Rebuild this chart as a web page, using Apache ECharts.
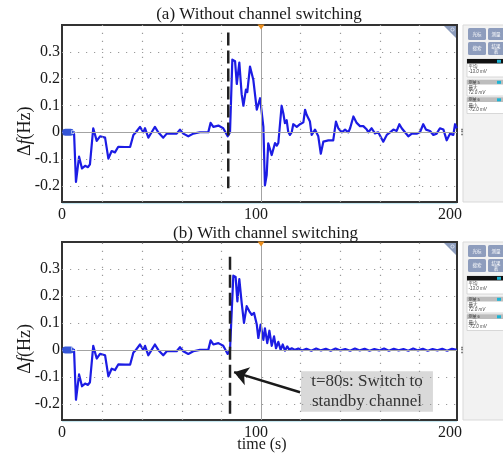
<!DOCTYPE html>
<html>
<head>
<meta charset="utf-8">
<script src="https://cdn.jsdelivr.net/npm/echarts@6/dist/echarts.min.js"></script>
<style>
  html, body { margin: 0; padding: 0; background: #fff; }
  #chart { width: 503px; height: 454px; }
</style>
</head>
<body>
<div id="chart"></div>
<script>
// Frequency deviation traces (time in s, deviation in Hz)
const timeTicks = [0, 100, 200];
const dfTicks = [-0.2, -0.1, 0, 0.1, 0.2, 0.3];
const panelTitles = ['(a) Without channel switching', '(b) With channel switching'];

// Common part of both recordings, before the disturbance at the switch point
const preTimes = [0, 6.2, 7.2, 8.8, 10.3, 11.9, 13.4, 14.4, 16.1, 17.9, 19.6, 22.2, 23.9, 25.6, 27.3,
  29.0, 32.5, 35.1, 36.8, 38.1, 40.2, 41.9, 42.8, 44.5, 46.2, 47.9, 49.6, 50.5, 52.2, 54.0,
  59.1, 60.8, 62.5, 65.1, 67.7, 71.1, 75.4, 76.6, 78.0, 80.6, 83.1, 85.4, 86.6];
const preDf = [0, 0, -0.185, -0.091, -0.135, -0.125, -0.13, -0.12, 0.015, -0.032, -0.015, -0.02, -0.098, -0.07, -0.075,
  -0.054, -0.055, -0.055, -0.01, 0.0, 0.02, 0.0, 0.015, -0.02, 0.0, 0.02, 0.0, 0.005, -0.02, -0.005,
  -0.005, 0.01, -0.005, -0.015, -0.005, 0.0, 0.0, 0.035, 0.02, 0.025, 0.015, -0.015, 0.0];

// (a) without switching
const afterTimesA = [87.8, 89.2, 90.1, 91.4, 92.6, 93.5, 94.8, 95.5, 96.9, 98.6, 100.4, 102.1, 102.9, 103.8, 104.6,
  105.5, 106.3, 107.2, 108.1, 109.8, 110.7, 111.5, 113.2, 114.1, 114.9, 115.8, 116.6, 117.5, 118.4, 119.2,
  121.0, 122.7, 124.4, 125.3, 126.1, 127.8, 128.7, 130.4, 132.1, 133.4, 134.7, 135.6, 137.3, 139.8, 141.2,
  142.4, 144.2, 145.9, 147.6, 148.5, 150.2, 151.9, 153.6, 155.3, 157.1, 157.9, 159.6, 161.3, 163.0, 163.9,
  165.6, 167.4, 169.1, 170.8, 172.5, 173.9, 175.1, 176.8, 178.5, 180.3, 182.8, 184.5, 186.2, 187.6, 189.7,
  191.4, 193.1, 194.8, 196.6, 198.3, 200.0, 201.7, 202.6, 203.5];
const afterDfA = [0.271, 0.265, 0.18, 0.26, 0.142, 0.099, 0.159, 0.15, 0.245, 0.196, 0.084, 0.127, 0.125, 0.02, -0.198,
  -0.16, -0.041, -0.045, -0.085, -0.04, -0.05, -0.04, 0.099, 0.07, 0.034, 0.045, 0.002, -0.01, 0.0, 0.03,
  0.02, 0.03, 0.037, 0.084, 0.065, 0.04, -0.01, 0.01, -0.015, -0.08, -0.035, -0.04, -0.03, -0.03, 0.04,
  0.015, 0.0, 0.01, 0.0, 0.015, 0.059, 0.035, 0.023, 0.023, 0.01, 0.0, 0.015, -0.004, 0.0, -0.005,
  -0.035, -0.01, 0.0, 0.01, 0.005, 0.03, 0.015, 0.0, -0.015, -0.005, -0.005, 0.0, 0.03, 0.01, 0.005,
  -0.01, -0.005, 0.015, 0.01, -0.03, -0.005, -0.01, 0.03, 0.015];

// (b) with switching to the standby channel
const afterTimesB = [87.5, 88.3, 89.5, 90.4, 91.4, 92.6, 93.8, 95.2, 96.5, 97.8, 99.0, 100.4, 101.2, 102.4, 103.8,
  104.6, 105.8, 106.9, 108.1, 109.3, 110.3, 111.5, 112.7, 113.8, 114.9, 116.1, 117.2, 118.4, 120.1, 121.8,
  123.7, 126.0, 128.5, 131.0, 133.5, 136.0, 138.5, 141.0, 143.5, 146.0, 148.5, 151.0, 153.5, 156.0, 158.5,
  161.0, 163.5, 166.0, 168.5, 171.0, 173.5, 176.0, 178.5, 181.0, 183.5, 186.0, 188.5, 191.0, 193.5, 196.0,
  198.5, 201.0, 203.5];
const afterDfB = [0.006, 0.275, 0.27, 0.18, 0.262, 0.175, 0.1, 0.162, 0.144, 0.13, 0.137, 0.094, 0.044, 0.094, 0.037,
  0.08, 0.025, 0.071, 0.015, 0.05, 0.006, 0.03, 0.0, 0.02, -0.003, 0.013, 0.0, 0.006, 0.0, 0.005,
  -0.002, 0.004, -0.003, 0.005, -0.002, 0.004, -0.003, 0.005, -0.002, 0.003, -0.003, 0.005, -0.002, 0.004, -0.003,
  0.003, -0.002, 0.005, -0.003, 0.004, -0.002, 0.003, -0.003, 0.005, -0.002, 0.004, -0.003, 0.003, -0.002, 0.004,
  -0.003, 0.004, 0.0];

// Switch instant marker (time, upper end, lower end)
const switchTimes = [85.7, 86.6];
const switchSpanA = [0.372, -0.209];
const switchSpanB = [0.345, -0.255];

// Annotation in panel (b)
const noteText = ['t=80s: Switch to', 'standby channel'];
const noteBox = [[123.2, -0.079], [191.2, -0.229]];
const arrowFrom = [122.7, -0.157];
const arrowTo = [88.7, -0.0825];

// Scope screen grid: 10 horizontal divisions
const divTimes = [21.0, 41.4, 61.8, 82.2, 123.0, 143.4, 163.8, 184.2];
const centerTime = 102.6;

const T_MAX = 203.6, DF_MIN = -0.26, DF_MAX = 0.40;
const SERIF = '"Liberation Serif", "Times New Roman", serif';
const CJK = '"Noto Sans CJK SC", sans-serif';
const TRACE = '#1c1ce4';

const pair = (ts, vs) => ts.map((t, i) => [t, vs[i]]);
const traceA = pair(preTimes, preDf).concat(pair(afterTimesA, afterDfA));
const traceB = pair(preTimes, preDf).concat(pair(afterTimesB, afterDfB));

const grids = [
  { left: 62, top: 25, width: 395, height: 177 },
  { left: 62, top: 242, width: 395, height: 178 }
];

const chart = echarts.init(document.getElementById('chart'), null, { renderer: 'canvas' });

function gridSeries(i) {
  return {
    type: 'line', xAxisIndex: i, yAxisIndex: i, data: [], silent: true, z: 1,
    markLine: {
      silent: true, symbol: 'none', animation: false, label: { show: false },
      lineStyle: { color: '#9a9a9a', type: [1.2, 6.8], width: 1.2 },
      data: divTimes.map(t => ({ xAxis: t }))
        .concat(dfTicks.filter(v => v !== 0).map(v => ({ yAxis: v })))
        .concat([
          { xAxis: centerTime, lineStyle: { color: '#a3a3a3', type: 'solid', width: 1 } },
          { yAxis: 0, lineStyle: { color: '#a3a3a3', type: 'solid', width: 1 } }
        ])
    }
  };
}

function traceSeries(i, data) {
  return {
    type: 'line', xAxisIndex: i, yAxisIndex: i, data: data, showSymbol: false, symbol: 'none',
    smooth: false, z: 3,
    lineStyle: { color: TRACE, width: 2.2, join: 'round' },
    markPoint: {
      silent: true, animation: false,
      data: [
        {
          coord: [0, 0], symbol: 'roundRect', symbolSize: [11, 7], symbolOffset: [6, 0],
          itemStyle: { color: '#3556d8' },
          label: { show: true, formatter: 'C1', color: '#fff', fontSize: 5, fontFamily: 'sans-serif', offset: [6, 0], position: 'inside' }
        },
        {
          coord: [centerTime, DF_MAX], symbol: 'triangle', symbolRotate: 180, symbolSize: [7, 5], symbolOffset: [0, 2],
          itemStyle: { color: '#ec8f1e' }, label: { show: false }
        }
      ]
    }
  };
}

function switchSeries(i, t, span) {
  return {
    type: 'line', xAxisIndex: i, yAxisIndex: i, data: [[t, span[0]], [t, span[1]]],
    symbol: 'none', silent: true, z: 5,
    lineStyle: { color: '#222', width: 2.5, type: [13, 5] }
  };
}

const axisLabelStyle = { fontFamily: SERIF, fontSize: 16, color: '#1a1a1a' };

const option = {
  animation: false,
  backgroundColor: '#fff',
  grid: grids.map(g => Object.assign({ show: true, borderColor: '#333', borderWidth: 2, backgroundColor: '#fff' }, g)),
  xAxis: [0, 1].map(i => ({
    gridIndex: i, type: 'value', min: 0, max: T_MAX,
    axisLine: { show: false }, axisTick: { show: false }, splitLine: { show: false },
    axisLabel: Object.assign({ customValues: timeTicks, margin: 5 }, axisLabelStyle)
  })),
  yAxis: [0, 1].map(i => ({
    gridIndex: i, type: 'value', min: DF_MIN, max: DF_MAX,
    axisLine: { show: false }, axisTick: { show: false }, splitLine: { show: false },
    axisLabel: Object.assign({
      customValues: dfTicks, margin: 2,
      formatter: v => (Math.abs(v) < 1e-9 ? '0' : v.toFixed(1))
    }, axisLabelStyle)
  })),
  series: [
    gridSeries(0),
    gridSeries(1),
    traceSeries(0, traceA),
    traceSeries(1, traceB),
    switchSeries(0, switchTimes[0], switchSpanA),
    Object.assign(switchSeries(1, switchTimes[1], switchSpanB), {
      markLine: {
        silent: true, animation: false, symbol: ['none', 'arrow'], symbolSize: 14,
        label: { show: false },
        lineStyle: { color: '#1a1a1a', width: 2.5, type: 'solid' },
        data: [[{ coord: arrowFrom }, { coord: arrowTo }]]
      },
      markArea: {
        silent: true,
        itemStyle: { color: '#d9d9d9' },
        label: {
          show: true, position: 'inside', formatter: noteText.join('\n'),
          fontFamily: SERIF, fontSize: 17, lineHeight: 20, color: '#333'
        },
        data: [[{ coord: noteBox[0] }, { coord: noteBox[1] }]]
      }
    })
  ],
  graphic: []
};

// Scope side panel with measurement readouts
function sidePanel(y0, h) {
  const els = [];
  els.push({ type: 'rect', shape: { x: 463, y: y0, width: 41, height: h }, style: { fill: '#f2f2f2', stroke: '#d9d9d9', lineWidth: 1 } });
  const btns = [
    [468, y0 + 3, 18, 12, '光标'], [488, y0 + 3, 16, 12, '测量'],
    [468, y0 + 17, 18, 13, '搜索'], [488, y0 + 17, 16, 13, '结果\n表']
  ];
  btns.forEach(b => {
    els.push({ type: 'rect', shape: { x: b[0], y: b[1], width: b[2], height: b[3], r: 1.5 }, style: { fill: '#8e9dbd' } });
    els.push({ type: 'text', x: b[0] + b[2] / 2, y: b[1] + b[3] / 2, style: { text: b[4], fill: '#fff', font: '4.5px ' + CJK, align: 'center', verticalAlign: 'middle', lineHeight: 5 } });
  });
  const blocks = [
    [y0 + 34, 18, '#111111', '', '平均', '-13.0 mV'],
    [y0 + 55, 16, '#bdbdbd', '测量 5', '最大', '72.0 mV'],
    [y0 + 72.5, 16, '#bdbdbd', '测量 6', '最小', '-72.0 mV']
  ];
  blocks.forEach(b => {
    els.push({ type: 'rect', shape: { x: 467, y: b[0], width: 37, height: b[1] }, style: { fill: '#fff', stroke: '#cfcfcf', lineWidth: 0.8 } });
    els.push({ type: 'rect', shape: { x: 467, y: b[0], width: 37, height: 4.5 }, style: { fill: b[2] } });
    els.push({ type: 'rect', shape: { x: 497, y: b[0] + 0.8, width: 4, height: 3 }, style: { fill: '#1db4d4' } });
    if (b[3]) els.push({ type: 'text', x: 468.5, y: b[0] + 2.3, style: { text: b[3], fill: '#333', font: '4px ' + CJK, verticalAlign: 'middle' } });
    els.push({ type: 'text', x: 468.5, y: b[0] + 7.5, style: { text: b[4], fill: '#444', font: '4.5px ' + CJK, verticalAlign: 'middle' } });
    els.push({ type: 'text', x: 468.5, y: b[0] + 12.5, style: { text: b[5], fill: '#444', font: 'italic 4.5px sans-serif', verticalAlign: 'middle' } });
  });
  return els;
}

grids.forEach((g, i) => {
  const right = g.left + g.width, bottom = g.top + g.height;
  const zeroY = g.top + g.height * DF_MAX / (DF_MAX - DF_MIN);
  option.graphic.push(
    // zoom corner of the scope screen
    { type: 'polygon', shape: { points: [[right - 13, g.top + 1], [right - 1, g.top + 1], [right - 1, g.top + 13]] }, style: { fill: '#8c9cbc' }, z: 10 },
    { type: 'circle', shape: { cx: right - 4.5, cy: g.top + 4.5, r: 1.6 }, style: { fill: 'none', stroke: '#e6ebf5', lineWidth: 0.8 }, z: 11 },
    // lower screen edge
    { type: 'line', shape: { x1: g.left, y1: bottom + 1.6, x2: right, y2: bottom + 1.6 }, style: { stroke: '#bfe4ee', lineWidth: 1 }, z: 10 },
    // menu handle
    { type: 'text', x: right + 4.5, y: zeroY, style: { text: '⋮', fill: '#333', font: 'bold 8px sans-serif', align: 'center', verticalAlign: 'middle' }, z: 10 },
    // vertical axis title
    {
      type: 'text', x: 25, y: zeroY - 1, rotation: Math.PI / 2, z: 10,
      style: {
        text: 'Δ{i|f}(Hz)', fill: '#1a1a1a', font: '18px ' + SERIF, align: 'center', verticalAlign: 'middle',
        rich: { i: { fontStyle: 'italic', fontSize: 18, fontFamily: SERIF, fill: '#1a1a1a' } }
      }
    }
  );
  option.graphic.push.apply(option.graphic, sidePanel(g.top, g.height));
});

option.graphic.push(
  { type: 'text', x: 259, y: 15, style: { text: panelTitles[0], fill: '#1a1a1a', font: '17px ' + SERIF, align: 'center', verticalAlign: 'middle' } },
  { type: 'text', x: 265.5, y: 233.5, style: { text: panelTitles[1], fill: '#1a1a1a', font: '17px ' + SERIF, align: 'center', verticalAlign: 'middle' } },
  { type: 'text', x: 262, y: 445, style: { text: 'time (s)', fill: '#1a1a1a', font: '16px ' + SERIF, align: 'center', verticalAlign: 'middle' } }
);

chart.setOption(option);
</script>
</body>
</html>
